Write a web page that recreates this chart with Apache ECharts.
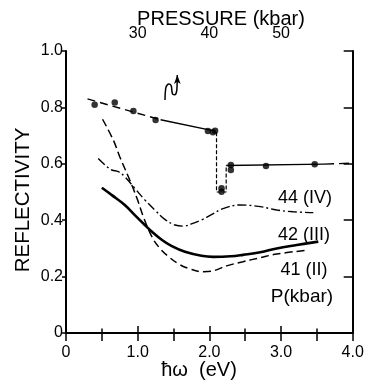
<!DOCTYPE html>
<html>
<head>
<meta charset="utf-8">
<script src="https://cdn.jsdelivr.net/npm/echarts@6/dist/echarts.min.js"></script>
<style>
  html, body { margin: 0; padding: 0; background: #fff; }
  #chart { width: 368px; height: 383px; }
</style>
</head>
<body>
<div id="chart"></div>
<script>
// measured reflectivity points (photon energy in eV)
const pointEnergy = [0.40, 0.68, 0.94, 1.25, 1.98, 2.05, 2.08, 2.17, 2.17, 2.30, 2.30, 2.79, 3.47]
const pointValue = [0.809, 0.817, 0.787, 0.755, 0.716, 0.712, 0.717, 0.513, 0.501, 0.596, 0.578, 0.592, 0.598]

// guide line through the points, split by line style
const guideDashEnergy = [0.30, 1.32]
const guideDashValue = [0.830, 0.756]
const guideSolidEnergy = [1.32, 2.08]
const guideSolidValue = [0.756, 0.716]
const guideDropEnergy = [2.10, 2.10, 2.235, 2.235]
const guideDropValue = [0.712, 0.500, 0.500, 0.595]
const guideFlatEnergy = [2.235, 3.60]
const guideFlatValue = [0.594, 0.599]
const guideTailEnergy = [3.60, 3.98]
const guideTailValue = [0.599, 0.602]

// spectra at fixed pressure
const curveIVEnergy = [0.45, 0.57, 0.64, 0.73, 0.82, 0.96, 1.10, 1.24, 1.38, 1.52, 1.64, 1.75, 1.89, 2.03, 2.20, 2.43, 2.71, 2.94, 3.17, 3.45]
const curveIVValue = [0.619, 0.590, 0.578, 0.572, 0.554, 0.513, 0.472, 0.436, 0.403, 0.383, 0.379, 0.387, 0.401, 0.420, 0.442, 0.454, 0.448, 0.436, 0.430, 0.427]
const curveIIIEnergy = [0.50, 0.64, 0.82, 0.96, 1.10, 1.20, 1.34, 1.47, 1.66, 1.89, 2.05, 2.30, 2.47, 2.71, 2.94, 3.22, 3.52]
const curveIIIValue = [0.515, 0.489, 0.454, 0.418, 0.383, 0.359, 0.330, 0.309, 0.288, 0.274, 0.270, 0.272, 0.277, 0.286, 0.300, 0.312, 0.324]
const curveIIEnergy = [0.51, 0.66, 0.75, 0.87, 0.99, 1.08, 1.20, 1.31, 1.43, 1.57, 1.71, 1.92, 2.03, 2.24, 2.47, 2.71, 2.94, 3.38]
const curveIIValue = [0.758, 0.684, 0.625, 0.554, 0.478, 0.412, 0.341, 0.300, 0.271, 0.245, 0.229, 0.217, 0.219, 0.238, 0.253, 0.267, 0.280, 0.294]

// hand drawn squiggle with arrow
const squiggleEnergy = [1.381, 1.391, 1.413, 1.441, 1.469, 1.479, 1.493, 1.516, 1.539, 1.549, 1.553]
const squiggleValue = [0.826, 0.868, 0.880, 0.883, 0.876, 0.856, 0.846, 0.845, 0.852, 0.873, 0.915]

// axis labels
const energyLabels = ['0', '1.0', '2.0', '3.0', '4.0']
const pressureLabels = ['30', '40', '50']
const reflectivityLabels = ['0', '0.2', '0.4', '0.6', '0.8', '1.0']

const FONT = "'Liberation Sans', 'DejaVu Sans', sans-serif"

function zip (xs, ys) {
  return xs.map((x, i) => [x, ys[i]])
}

function lineSeries (xs, ys, width, type, smooth) {
  return {
    type: 'line',
    data: zip(xs, ys),
    symbol: 'none',
    smooth: smooth || false,
    silent: true,
    lineStyle: { color: '#000', width: width, type: type }
  }
}

const squiggleData = zip(squiggleEnergy, squiggleValue)
squiggleData[squiggleData.length - 1] = {
  value: squiggleData[squiggleData.length - 1],
  symbol: 'arrow',
  symbolSize: [5, 9],
  itemStyle: { color: '#000' }
}

const chart = echarts.init(document.getElementById('chart'), null, { renderer: 'canvas' })

// negative tick lengths draw the ticks into the plot
const option = {
  animation: false,
  backgroundColor: '#fff',
  textStyle: { fontFamily: FONT, color: '#000' },
  grid: { left: 66, right: 15.3, top: 51, bottom: 50, outerBoundsMode: 'none' },
  xAxis: [
    {
      type: 'value',
      position: 'bottom',
      min: 0,
      max: 4,
      interval: 1,
      axisLine: { lineStyle: { color: '#000', width: 2 } },
      axisTick: { inside: false, length: -7, lineStyle: { color: '#000', width: 1.5 } },
      minorTick: { show: true, splitNumber: 2, length: -4.5, lineStyle: { color: '#000', width: 1.5 } },
      splitLine: { show: false },
      axisLabel: {
        margin: 12,
        fontSize: 16,
        fontFamily: FONT,
        color: '#000',
        formatter: (v) => energyLabels[Math.round(v)] || ''
      }
    },
    {
      type: 'value',
      position: 'top',
      min: 20,
      max: 60,
      interval: 5,
      axisLine: { lineStyle: { color: '#000', width: 1.5 } },
      axisTick: { inside: false, length: -8, lineStyle: { color: '#000', width: 1.5 } },
      splitLine: { show: false },
      axisLabel: {
        margin: 9,
        fontSize: 16,
        fontFamily: FONT,
        color: '#000',
        formatter: (v) => (pressureLabels.indexOf(String(v)) >= 0 ? String(v) : '')
      }
    }
  ],
  yAxis: [
    {
      type: 'value',
      position: 'left',
      min: 0,
      max: 1,
      interval: 0.2,
      axisLine: { lineStyle: { color: '#000', width: 2 } },
      axisTick: { inside: false, length: 4, lineStyle: { color: '#000', width: 1.5 } },
      splitLine: { show: false },
      axisLabel: {
        margin: 3,
        fontSize: 16,
        fontFamily: FONT,
        color: '#000',
        formatter: (v) => reflectivityLabels[Math.round(v * 5)] || ''
      }
    },
    {
      type: 'value',
      position: 'right',
      min: 0,
      max: 1,
      interval: 0.2,
      axisLine: { lineStyle: { color: '#000', width: 2 } },
      axisTick: { inside: false, length: -9, lineStyle: { color: '#000', width: 1.5 } },
      splitLine: { show: false },
      axisLabel: { show: false }
    }
  ],
  series: [
    lineSeries(curveIIEnergy, curveIIValue, 1.5, [8, 4], 0.4),
    lineSeries(curveIIIEnergy, curveIIIValue, 2.6, 'solid', 0.4),
    lineSeries(curveIVEnergy, curveIVValue, 1.4, [9, 3, 2, 3], 0.4),
    lineSeries(guideDashEnergy, guideDashValue, 1.4, [8, 5]),
    lineSeries(guideSolidEnergy, guideSolidValue, 1.4, 'solid'),
    lineSeries(guideDropEnergy, guideDropValue, 1.2, [4, 2]),
    lineSeries(guideFlatEnergy, guideFlatValue, 1.4, 'solid'),
    lineSeries(guideTailEnergy, guideTailValue, 1.4, [10, 5]),
    {
      type: 'line',
      data: squiggleData,
      symbol: 'none',
      showSymbol: true,
      smooth: 0.5,
      silent: true,
      lineStyle: { color: '#000', width: 1.5 }
    },
    {
      type: 'scatter',
      data: zip(pointEnergy, pointValue),
      symbol: 'circle',
      symbolSize: 6.5,
      silent: true,
      itemStyle: { color: '#000' }
    }
  ],
  graphic: [
    { type: 'text', x: 221, y: 19, style: { text: 'PRESSURE (kbar)', font: '20px ' + FONT, fill: '#000', align: 'center', verticalAlign: 'middle' } },
    { type: 'text', x: 23.5, y: 200, rotation: Math.PI / 2, style: { text: 'REFLECTIVITY', font: '20.5px ' + FONT, fill: '#000', align: 'center', verticalAlign: 'middle' } },
    { type: 'text', x: 199, y: 370, style: { text: 'ħω  (eV)', font: '20px ' + FONT, fill: '#000', align: 'center', verticalAlign: 'middle' } },
    { type: 'text', x: 305, y: 198, style: { text: '44 (IV)', font: '18px ' + FONT, fill: '#000', align: 'center', verticalAlign: 'middle' } },
    { type: 'text', x: 304, y: 235, style: { text: '42 (III)', font: '18px ' + FONT, fill: '#000', align: 'center', verticalAlign: 'middle' } },
    { type: 'text', x: 304, y: 270, style: { text: '41 (II)', font: '18px ' + FONT, fill: '#000', align: 'center', verticalAlign: 'middle' } },
    { type: 'text', x: 302, y: 297, style: { text: 'P(kbar)', font: '19px ' + FONT, fill: '#000', align: 'center', verticalAlign: 'middle' } }
  ]
}

chart.setOption(option)
</script>
</body>
</html>
